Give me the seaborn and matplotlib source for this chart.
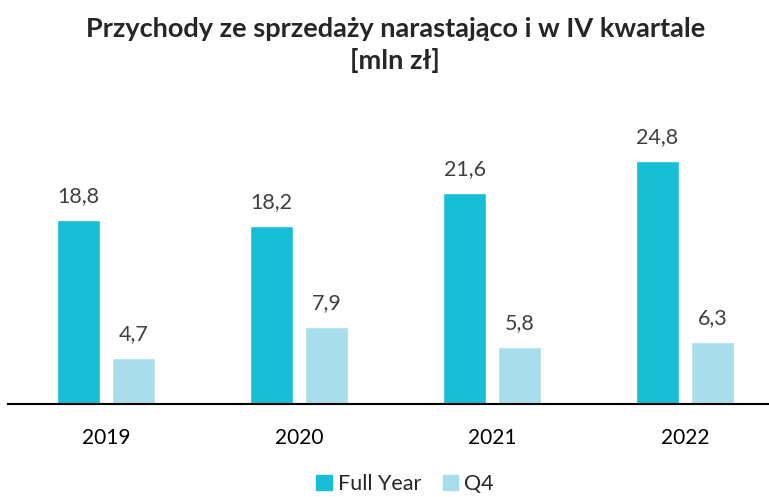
import pandas as pd
import matplotlib
matplotlib.use("Agg")
import matplotlib.pyplot as plt
import seaborn as sns

years = ["2019", "2020", "2021", "2022"]
full_year = [18.8, 18.2, 21.6, 24.8]
q4 = [4.7, 7.9, 5.8, 6.3]
series = ["Full Year", "Q4"]
colors = ["#17BED6", "#A8DEEC"]

data = pd.DataFrame({
    "year": years * 2,
    "value": full_year + q4,
    "series": [series[0]] * 4 + [series[1]] * 4,
})

sns.set_style("white")
plt.rcParams['font.family'] = ['Lato', 'DejaVu Sans']

fig = plt.figure(figsize=(7.69, 4.97), dpi=100)
ax = fig.add_axes([0.0104, 0.1871, 0.9896, 0.6117])

sns.barplot(
    data=data, x="year", y="value", hue="series",
    palette=colors, width=0.57, gap=0.22, ax=ax,
    legend=False, saturation=1,
)

for cont in ax.containers:
    ax.bar_label(cont, labels=[f"{v:.1f}".replace(".", ",") for v in cont.datavalues],
                 padding=10, fontsize=15.5, color="#404040")

ax.set_xlim(-0.508, 3.435)
ax.set_ylim(0, 31.05)
ax.set_xlabel("")
ax.set_ylabel("")
ax.set_yticks([])
ax.tick_params(axis="x", length=0, labelsize=15, pad=17, labelcolor="black")
for s in ["top", "right", "left"]:
    ax.spines[s].set_visible(False)
ax.spines["bottom"].set_color("black")
ax.spines["bottom"].set_linewidth(1.5)

fig.text(0.514, 0.965, "Przychody ze sprzedaży narastająco i w IV kwartale\n[mln zł]",
         ha="center", va="top", fontsize=19.5, fontweight="bold", linespacing=1.3)

handles = [plt.Rectangle((0, 0), 1, 1, color=c) for c in colors]
fig.legend(handles, series, loc="lower center", bbox_to_anchor=(0.527, -0.033),
           ncol=2, frameon=False, fontsize=15.5, handlelength=0.7, handleheight=0.7,
           handletextpad=0.3, columnspacing=1.0, labelcolor="#262626")

fig.savefig("out.png", dpi=100)
